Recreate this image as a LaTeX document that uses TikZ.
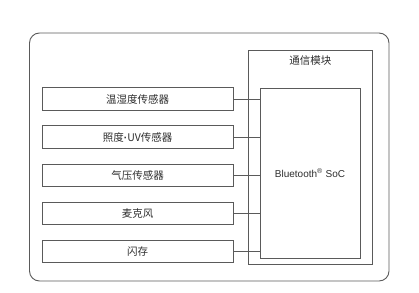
\documentclass[tikz,border=0pt]{standalone}
\usepackage{fontspec}
\setmainfont{Liberation Sans}
\newfontfamily\cjk{Noto Sans CJK SC}
\usetikzlibrary{positioning}
\usepackage{xcolor}
\definecolor{frame}{HTML}{5A5A5A}
\definecolor{ink}{HTML}{2E2E2E}
\tikzset{
  base/.style={draw=frame,line width=0.9pt,fill=white,text=ink,inner sep=0pt},
  board/.style={base,rounded corners=10pt,minimum width=359.5pt,minimum height=248pt},
  sensor/.style={base,minimum width=190.7pt,minimum height=22.5pt,font=\cjk\fontsize{10.5}{12}\selectfont},
  module/.style={base,minimum width=123.5pt,minimum height=214pt},
  soc/.style={base,minimum width=100pt,minimum height=170.7pt,font=\fontsize{10}{12}\selectfont},
  title/.style={text=ink,inner sep=0pt,font=\cjk\fontsize{10.5}{12}\selectfont},
  wire/.style={draw=frame,line width=0.9pt}
}
\begin{document}
\begin{tikzpicture}[x=1pt,y=-1pt]
\useasboundingbox (0,0) rectangle (419,292);
\node[board] (board) at (209.25,157) {};
\node[module] (module) at (310.25,157) {};
\node[title] (modtitle) at ([yshift=-11pt]module.north) {通信模块};
\node[soc] (soc) at (310,173.3) {Bluetooth\textsuperscript{®} SoC};
% sensors
\node[sensor] (s1) at (137.65,99) {温湿度传感器};
\node[sensor,below=14.7pt of s1] (s2) {照度{\rmfamily\bfseries ·}UV传感器};
\node[sensor,below=14.7pt of s2] (s3) {气压传感器};
\node[sensor,below=14.7pt of s3] (s4) {麦克风};
\node[sensor,below=14.7pt of s4] (s5) {闪存};
\foreach \s in {s1,s2,s3,s4,s5}
  \draw[wire] (\s.east) -- (\s.east -| soc.west);
\end{tikzpicture}
\end{document}
